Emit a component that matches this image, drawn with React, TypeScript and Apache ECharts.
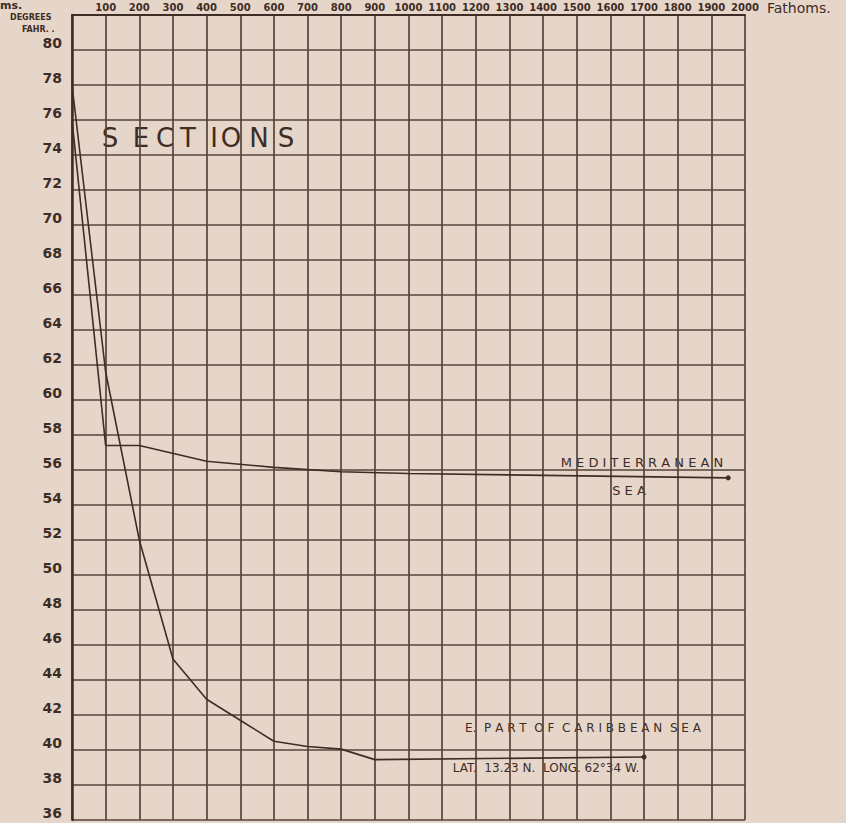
import React, { useEffect, useRef } from "react";
import * as echarts from "echarts";

// Fathoms (x) tick labels, top axis
const fathomLabels = ["100", "200", "300", "400", "500", "600", "700", "800", "900", "1000", "1100", "1200", "1300", "1400", "1500", "1600", "1700", "1800", "1900", "2000"];
// Degrees Fahr. (y) tick labels
const degreeLabels = ["36", "38", "40", "42", "44", "46", "48", "50", "52", "54", "56", "58", "60", "62", "64", "66", "68", "70", "72", "74", "76", "78", "80"];

// Mediterranean Sea section
const medDepth = [0, 100, 200, 400, 600, 800, 1000, 1950];
const medTemp = [76, 57.4, 57.4, 56.5, 56.15, 55.9, 55.8, 55.55];

// E. part of Caribbean Sea section
const carDepth = [0, 100, 200, 300, 400, 500, 600, 700, 800, 900, 1700];
const carTemp = [78, 61.6, 52, 45.2, 42.9, 41.7, 40.5, 40.2, 40.05, 39.45, 39.6];

const INK = "#3e2c25";
const GRID = "#56433a";
const BG = "#e6d6c9";
const FONT = "DejaVu Sans";

function buildData(xs: number[], ys: number[]) {
  return xs.map((x, i) =>
    i === xs.length - 1
      ? { value: [x, ys[i]], symbol: "circle", symbolSize: 5 }
      : { value: [x, ys[i]], symbol: "none" }
  );
}

const sectionLetters = ["S", "E", "C", "T", "I", "O", "N", "S"];
const sectionX = [110, 141, 165, 188, 214, 231, 259, 286];

export default function App() {
  const ref = useRef<HTMLDivElement>(null);
  useEffect(() => {
    if (!ref.current) return;
    const chart = echarts.init(ref.current, null, { renderer: "svg" });
    const option: any = {
      animation: false,
      backgroundColor: BG,
      grid: { left: 72, right: 101, top: 15, bottom: 3, containLabel: false },
      xAxis: {
        type: "value",
        position: "top",
        min: 0,
        max: 2000,
        interval: 100,
        axisLine: { show: true, lineStyle: { color: INK, width: 2 } },
        axisTick: { show: false },
        splitLine: { show: true, lineStyle: { color: GRID, width: 1.7 } },
        axisLabel: {
          show: true,
          margin: 3,
          color: INK,
          fontFamily: FONT,
          fontSize: 10,
          fontWeight: "bold",
          formatter: (v: number) => {
            const idx = fathomLabels.indexOf(String(v));
            return idx >= 0 ? fathomLabels[idx] : "";
          },
        },
      },
      yAxis: {
        type: "value",
        min: 36,
        max: 82,
        interval: 2,
        axisLine: { show: true, lineStyle: { color: INK, width: 2.5 } },
        axisTick: { show: false },
        splitLine: { show: true, lineStyle: { color: GRID, width: 1.7 } },
        axisLabel: {
          show: true,
          margin: 10,
          color: INK,
          fontFamily: FONT,
          fontSize: 14,
          fontWeight: "bold",
          verticalAlign: "bottom",
          formatter: (v: number) => {
            const idx = degreeLabels.indexOf(String(v));
            return idx >= 0 ? degreeLabels[idx] : "";
          },
        },
      },
      series: [
        {
          name: "Mediterranean Sea",
          type: "line",
          data: buildData(medDepth, medTemp),
          showSymbol: true,
          lineStyle: { color: INK, width: 1.6 },
          itemStyle: { color: INK },
          z: 5,
        },
        {
          name: "E. Part of Caribbean Sea",
          type: "line",
          data: buildData(carDepth, carTemp),
          showSymbol: true,
          lineStyle: { color: INK, width: 1.6 },
          itemStyle: { color: INK },
          z: 5,
        },
      ],
      graphic: [
        { type: "text", x: 0, y: 0, style: { text: "ms.", fill: INK, font: `bold 11px '${FONT}'` } },
        { type: "text", x: 10, y: 13, style: { text: "DEGREES", fill: INK, font: `bold 8px '${FONT}'` } },
        { type: "text", x: 22, y: 25, style: { text: "FAHR. .", fill: INK, font: `bold 8px '${FONT}'` } },
        { type: "text", x: 767, y: 1, style: { text: "Fathoms.", fill: INK, font: `14px '${FONT}'` } },
        ...sectionLetters.map((ch, i) => ({
          type: "text",
          x: sectionX[i],
          y: 138,
          style: { text: ch, fill: INK, font: `26px '${FONT}'`, align: "center", verticalAlign: "middle" },
        })),
        { type: "text", x: 642, y: 462, style: { text: "M E D I T E R R A N E A N", fill: INK, font: `13px '${FONT}'`, align: "center", verticalAlign: "middle" } },
        { type: "text", x: 629, y: 490, style: { text: "S E A", fill: INK, font: `13px '${FONT}'`, align: "center", verticalAlign: "middle" } },
        { type: "text", x: 583, y: 728, style: { text: "E.  P A R T  O F  C A R I B B E A N  S E A", fill: INK, font: `12px '${FONT}'`, align: "center", verticalAlign: "middle" } },
        { type: "text", x: 546, y: 768, style: { text: "LAT.  13.23 N.  LONG. 62°34 W.", fill: INK, font: `12px '${FONT}'`, align: "center", verticalAlign: "middle" } },
      ],
    };
    chart.setOption(option);
    return () => chart.dispose();
  }, []);
  return (
    <div
      ref={ref}
      style={{ position: "fixed", left: 0, top: 0, width: 846, height: 823, background: BG }}
    />
  );
}
